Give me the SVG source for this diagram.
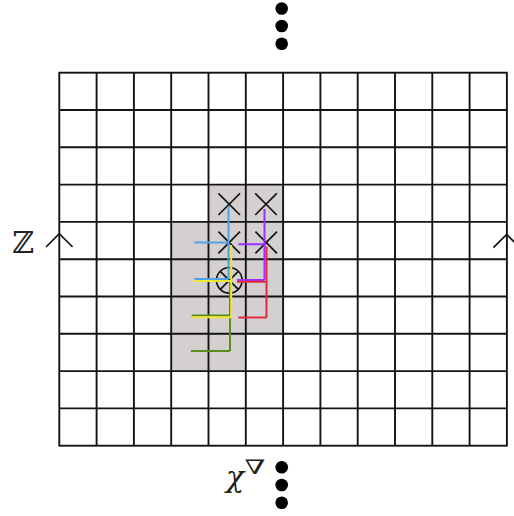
<svg xmlns="http://www.w3.org/2000/svg" width="514" height="516" viewBox="0 0 514 516">
<style>
.grid{stroke:#141414;stroke-width:1.9;fill:none}
.cell{fill:#d4d0d0;stroke:none}
.mark{stroke:#141414;stroke-width:1.7;fill:none}
.p{fill:none;stroke-width:2;stroke-linecap:butt;stroke-linejoin:miter}
.dot{fill:#000}
.lbl{font-family:"DejaVu Serif","Liberation Serif",serif;fill:#222}
</style>
<g id="shading">
<rect class="cell" x="171.2" y="222" width="37.3" height="149.2"/>
<rect class="cell" x="208.5" y="184.6" width="37.3" height="186.6"/>
<rect class="cell" x="245.8" y="184.6" width="37.3" height="149.2"/>
</g>
<g id="grid" class="grid">
<rect x="59.3" y="72.7" width="447.6" height="373"/>
<path d="M96.6 72.7V445.7M133.9 72.7V445.7M171.2 72.7V445.7M208.5 72.7V445.7M245.8 72.7V445.7M283.1 72.7V445.7M320.4 72.7V445.7M357.7 72.7V445.7M395 72.7V445.7M432.3 72.7V445.7M469.6 72.7V445.7"/>
<path d="M59.3 110H506.9M59.3 147.3H506.9M59.3 184.6H506.9M59.3 221.9H506.9M59.3 259.2H506.9M59.3 296.5H506.9M59.3 333.8H506.9M59.3 371.1H506.9M59.3 408.4H506.9"/>
</g>
<g id="marks" class="mark">
<path d="M218.4 193.4L240 215M240 193.4L218.4 215"/>
<path d="M255.2 193.4L276.8 215M276.8 193.4L255.2 215"/>
<path d="M218.4 231.7L240 253.3M240 231.7L218.4 253.3"/>
<path d="M255.4 231.7L277 253.3M277 231.7L255.4 253.3"/>
<circle cx="229.3" cy="280.3" r="12.8"/>
<path d="M220.3 271.3L238.3 289.3M238.3 271.3L220.3 289.3"/>
</g>
<g id="connectors">
<path class="p" stroke="#52a0e6" d="M228.5 206V279.3M194.3 242.5H228.5M194.3 279H228.5"/>
<path class="p" stroke="#5c8c1e" d="M230 280V351M191.7 315.5H230M191 351H230"/>
<path class="p" stroke="#f2e632" d="M231.2 245V317.3M193.3 281H231.2M192.3 317.3H231.2"/>
<path class="p" stroke="#9a30ff" d="M264.5 209V280M238.3 244.3H264.5M237 280H264.5"/>
<path class="p" stroke="#e6283e" d="M266.5 246.5V317.5M237 281.8H266.5M238.3 317.5H266.5"/>
</g>
<g id="chevrons" class="mark">
<path d="M46 247L59.3 233.7L72.6 247"/>
<path d="M493.4 247.7L506.7 234.4L520 247.7"/>
</g>
<g id="dots-top">
<circle class="dot" cx="281.7" cy="8.5" r="6.3"/>
<circle class="dot" cx="281.7" cy="26" r="6.3"/>
<circle class="dot" cx="281.7" cy="43.7" r="6.3"/>
</g>
<g id="dots-bottom">
<circle class="dot" cx="281.7" cy="467.3" r="6.3"/>
<circle class="dot" cx="281.7" cy="485" r="6.3"/>
<circle class="dot" cx="281.7" cy="502.7" r="6.3"/>
</g>
<g id="labels">
<text class="lbl" x="12" y="253" font-size="30">ℤ</text>
<text class="lbl" x="226" y="487" font-size="30" font-style="italic">χ</text>
<text class="lbl" transform="translate(244.5,473.5) scale(1.5,1)" font-size="20">∇</text>
</g>
</svg>
